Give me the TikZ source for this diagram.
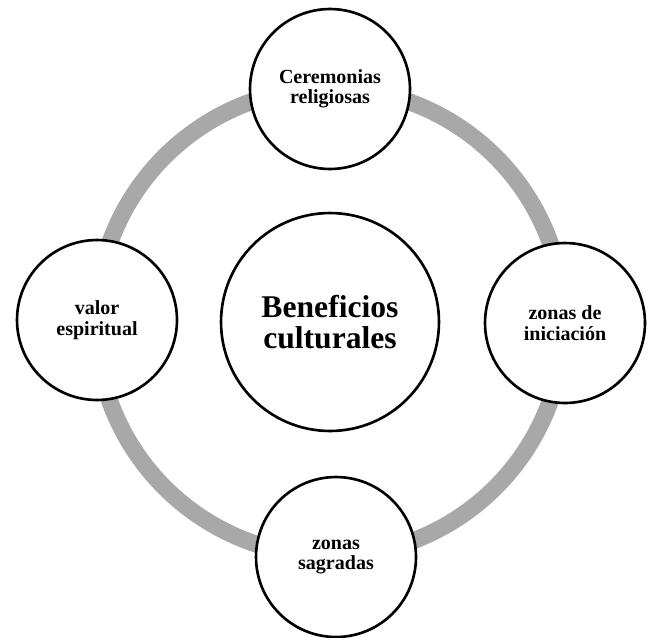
\documentclass[tikz,border=0pt]{standalone}
\usepackage{fontspec}
\setmainfont{Liberation Serif}
\usepackage{tikz}
\definecolor{ring_grey}{RGB}{168, 168, 168}
\tikzstyle{hub}=[circle,fill=white,draw=black,line width=1.5pt,inner sep=0pt,
  minimum size=4.36cm,align=center,font=\bfseries\fontsize{18}{18}\selectfont]
\tikzstyle{sat}=[circle,fill=white,draw=black,line width=1.5pt,inner sep=0pt,
  minimum size=3.2cm,align=center,font=\bfseries\fontsize{11.4}{11.6}\selectfont]
\tikzstyle{ring}=[draw=ring_grey,line width=0.34cm]

\begin{document}
\begin{tikzpicture}[x=0.02cm, y=-0.02cm]
  \useasboundingbox (0, 0) rectangle (648, 637);
  \node [style=hub] (0) at (330, 322) {Beneficios\\culturales};
  \draw [style=ring] (0.center) circle [radius=4.68cm];
  \node [style=sat] (1) at (330, 89) {Ceremonias\\religiosas};
  \node [style=sat] (2) at (565, 323) {zonas de\\iniciación};
  \node [style=sat] (3) at (336, 557) {zonas\\sagradas};
  \node [style=sat] (4) at (97, 320) {valor\\espiritual};
\end{tikzpicture}
\end{document}
